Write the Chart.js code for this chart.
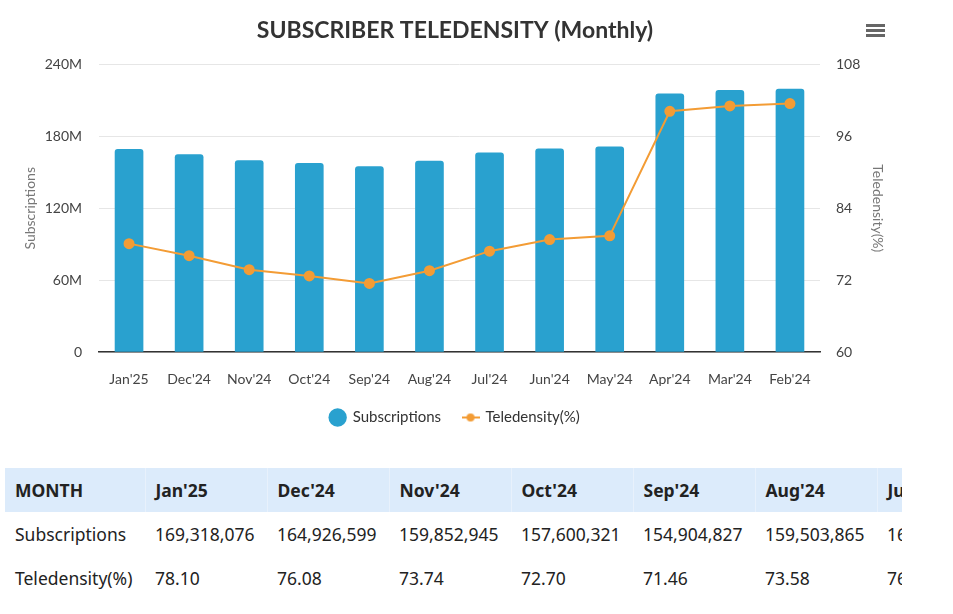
<!DOCTYPE html>
<html>
<head>
<meta charset="utf-8">
<script src="https://cdn.jsdelivr.net/npm/chart.js@4/dist/chart.umd.min.js"></script>
<style>
  body { margin: 0; background: #fff; }
  #wrap { position: relative; width: 910px; height: 445px; }
  #tblbox { position: absolute; left: 5px; top: 468px; width: 897px; overflow: hidden; }
  table { border-collapse: collapse; table-layout: fixed; white-space: nowrap; font-family: "Noto Sans", "Open Sans", sans-serif; font-size: 17.5px; color: #222; }
  th, td { text-align: left; padding: 0 10px; height: 44px; overflow: hidden; }
  th { background: #dcebfb; font-weight: 700; border-right: 1px solid #e8f1fc; }
  col.first { width: 140px; }
  col.m { width: 122px; }
</style>
</head>
<body>
<div id="wrap"><canvas id="myChart" width="910" height="445"></canvas></div>
<div id="tblbox"><table id="tbl"></table></div>
<script>
const months = ["Jan'25", "Dec'24", "Nov'24", "Oct'24", "Sep'24", "Aug'24", "Jul'24", "Jun'24", "May'24", "Apr'24", "Mar'24", "Feb'24"];
const subscriptions = [169318076, 164926599, 159852945, 157600321, 154904827, 159503865, 166400000, 169700000, 171400000, 215500000, 218500000, 219600000];
const teledensity = [78.10, 76.08, 73.74, 72.70, 71.46, 73.58, 76.84, 78.78, 79.40, 100.20, 101.10, 101.50];
const leftTicks = [0, 60, 120, 180, 240];
const rightTicks = [60, 72, 84, 96, 108];

// table under the chart
function buildTable() {
  const tbl = document.getElementById('tbl');
  let html = '<colgroup><col class="first">' + months.map(() => '<col class="m">').join('') + '</colgroup>';
  html += '<tr><th>MONTH</th>' + months.map(m => '<th>' + m + '</th>').join('') + '</tr>';
  html += '<tr><td>Subscriptions</td>' + subscriptions.map(v => '<td>' + v.toLocaleString('en-US') + '</td>').join('') + '</tr>';
  html += '<tr><td>Teledensity(%)</td>' + teledensity.map(v => '<td>' + v.toFixed(2) + '</td>').join('') + '</tr>';
  tbl.innerHTML = html;
  tbl.style.width = (140 + 122 * months.length) + 'px';
}
buildTable();

const blue = '#29a1cf';
const orange = '#f39c35';

function lineIcon() {
  const c = document.createElement('canvas');
  c.width = 18; c.height = 10;
  const g = c.getContext('2d');
  g.strokeStyle = orange; g.lineWidth = 2;
  g.beginPath(); g.moveTo(0, 5); g.lineTo(18, 5); g.stroke();
  g.fillStyle = orange;
  g.beginPath(); g.arc(9, 5, 4, 0, Math.PI * 2); g.fill();
  return c;
}

const menuIcon = {
  id: 'menuIcon',
  afterDraw(chart) {
    const ctx = chart.ctx;
    ctx.save();
    ctx.fillStyle = '#666';
    for (let i = 0; i < 3; i++) {
      ctx.fillRect(866, 24 + i * 5, 19, 3);
    }
    ctx.restore();
  }
};

const ctx = document.getElementById('myChart').getContext('2d');
const myChart = new Chart(ctx, {
  type: 'bar',
  data: {
    labels: months,
    datasets: [{
      type: 'line',
      label: 'Teledensity(%)',
      data: teledensity,
      yAxisID: 'y2',
      borderColor: orange,
      backgroundColor: orange,
      borderWidth: 2,
      pointRadius: 4.5,
      pointHoverRadius: 5,
      tension: 0,
      order: 0
    }, {
      label: 'Subscriptions',
      data: subscriptions,
      yAxisID: 'y',
      backgroundColor: blue,
      borderRadius: { topLeft: 3, topRight: 3 },
      borderSkipped: 'bottom',
      barThickness: 28,
      pointStyle: 'circle',
      order: 1
    }]
  },
  options: {
    responsive: false,
    animation: false,
    layout: { padding: { top: 10, left: 0, right: 0, bottom: 10 } },
    plugins: {
      title: {
        display: true,
        text: 'SUBSCRIBER TELEDENSITY (Monthly)',
        color: '#333',
        font: { family: 'Lato', size: 23, weight: 'bold' },
        padding: { top: 7, bottom: 20 }
      },
      legend: {
        position: 'bottom',
        reverse: true,
        labels: {
          usePointStyle: true,
          boxHeight: 13,
          color: '#333',
          font: { family: 'Lato', size: 15 },
          padding: 22,
          generateLabels(chart) {
            const items = Chart.defaults.plugins.legend.labels.generateLabels(chart);
            items.forEach(it => {
              if (it.datasetIndex === 0) { it.pointStyle = lineIcon(); }
              else { it.pointStyle = 'circle'; it.fillStyle = blue; it.strokeStyle = blue; }
            });
            return items;
          }
        }
      },
      tooltip: { enabled: false }
    },
    scales: {
      x: {
        grid: { display: false, drawTicks: false },
        border: { color: '#333', width: 1.5 },
        ticks: { color: '#444', padding: 19, font: { family: 'Lato', size: 14 }, maxRotation: 0 },
        afterFit(s) { s.height = 36; }
      },
      y: {
        position: 'left',
        min: 0, max: 240e6,
        afterBuildTicks(s) { s.ticks = leftTicks.map(v => ({ value: v * 1e6 })); },
        grid: { color: '#e6e6e6', drawTicks: false },
        border: { display: false },
        ticks: {
          color: '#444', padding: 17,
          font: { family: 'Lato', size: 14 },
          callback: v => v === 0 ? '0' : (v / 1e6) + 'M'
        },
        title: { display: true, text: 'Subscriptions', color: '#777', font: { family: 'Lato', size: 14 }, padding: { top: 22, bottom: 0 } },
        afterFit(s) { s.width = 99; }
      },
      y2: {
        position: 'right',
        min: 60, max: 108,
        afterBuildTicks(s) { s.ticks = rightTicks.map(v => ({ value: v })); },
        grid: { display: false, drawTicks: false },
        border: { display: false },
        ticks: { color: '#444', padding: 16, font: { family: 'Lato', size: 14 } },
        title: { display: true, text: 'Teledensity(%)', color: '#777', font: { family: 'Lato', size: 14 }, padding: { top: 24, bottom: 0 } },
        afterFit(s) { s.width = 90; }
      }
    }
  },
  plugins: [menuIcon]
});
</script>
</body>
</html>
